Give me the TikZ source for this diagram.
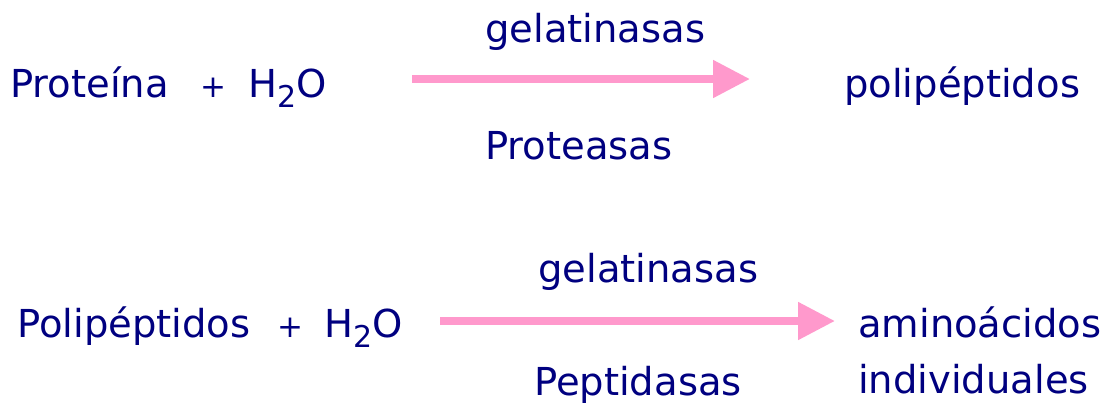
\documentclass[tikz,border=0pt]{standalone}
\usepackage{fontspec}
\setmainfont{DejaVu Sans}
\usepackage{xcolor}
\definecolor{navytxt}{RGB}{0,0,128}
\definecolor{pinkarrow}{RGB}{255,153,204}
\usetikzlibrary{arrows.meta}
\newcommand{\water}{H\raisebox{-10pt}{\fontsize{30}{32}\selectfont 2}O}

\begin{document}
\begin{tikzpicture}[
  x=1pt, y=-1pt,
  chem/.style={
    anchor=base west, inner sep=0pt,
    text=navytxt, font=\fontsize{38.5}{46}\selectfont
  },
  plus/.style={
    anchor=base west, inner sep=0pt,
    text=navytxt, font=\fontsize{31}{34}\selectfont
  },
  rxn/.style={
    -{Triangle[length=37pt,width=36pt]},
    line width=8pt, color=pinkarrow
  }
]
\useasboundingbox[fill=white] (0,0) rectangle (1102,407);

% primera reaccion
\node[chem] (prot) at (10,97) {Proteína};
\node[plus] (plusA) at (200,97) {+};
\node[chem] (waterA) at (248,97) {\water};
\node[chem] (enzA) at (485,42) {gelatinasas};
\node[chem] (protA) at (485,159) {Proteasas};
\node[chem] (polA) at (844,97) {polipéptidos};
\coordinate (startA) at (412,79);
\coordinate (endA) at (750,79);
\draw[rxn] (startA) -- (endA);

% segunda reaccion
\node[chem] (pol) at (17,337) {Polipéptidos};
\node[plus] (plusB) at (277,337) {+};
\node[chem] (waterB) at (324,337) {\water};
\node[chem] (enzB) at (538,282) {gelatinasas};
\node[chem] (peptB) at (534,395) {Peptidasas};
\node[chem] (aminoB) at (858,337) {aminoácidos};
\node[chem] (indivB) at (858,393) {individuales};
\coordinate (startB) at (440,321);
\coordinate (endB) at (835,321);
\draw[rxn] (startB) -- (endB);
\end{tikzpicture}
\end{document}
